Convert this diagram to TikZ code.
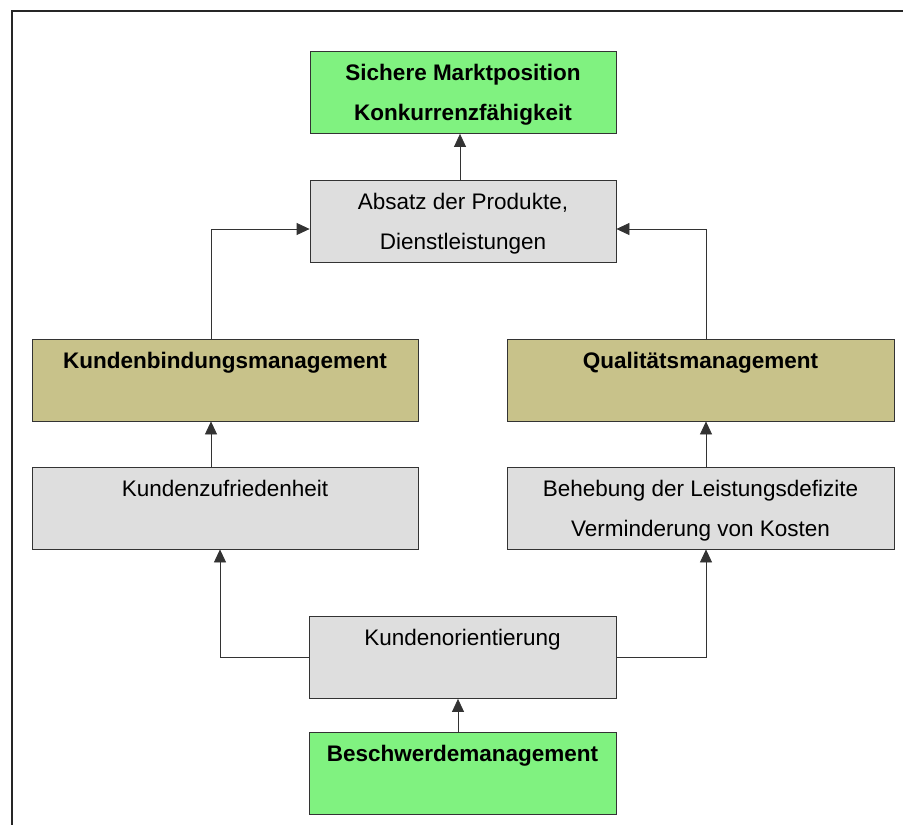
\documentclass[tikz,border=0pt]{standalone}
\usepackage{fontspec}
\setmainfont{Liberation Sans}
\usepackage{xcolor}
\usetikzlibrary{arrows.meta,positioning}

\definecolor{zielgruen}{RGB}{128,242,128}
\definecolor{olivgelb}{RGB}{200,194,138}
\definecolor{hellgrau}{RGB}{222,222,222}

\tikzset{
  kasten/.style={draw=black!80, line width=0.8pt, inner sep=0pt,
    minimum height=82pt, text height=69pt, text depth=13pt,
    align=center, font=\fontsize{22.5}{40}\selectfont},
  graubox/.style={kasten, fill=hellgrau},
  gruenbox/.style={kasten, fill=zielgruen, font=\fontsize{22.5}{40}\selectfont\bfseries},
  olivbox/.style={kasten, fill=olivgelb, font=\fontsize{22.5}{40}\selectfont\bfseries},
  pfeil/.style={draw=black!80, line width=0.8pt, -{Triangle[length=13pt,width=12pt]}}
}

\begin{document}
\begin{tikzpicture}[x=1pt, y=-1pt]
\useasboundingbox (0,0) rectangle (903,825);
% Rahmen
\draw[line width=1.6pt, black!85] (12,825) -- (12,11) -- (903,11);
% Kaesten
\node[gruenbox, minimum width=306pt] (ziel) at (463,92.5) {Sichere Marktposition\\Konkurrenzfähigkeit};
\node[graubox, minimum width=306pt] (absatz) at (463,221) {Absatz der Produkte,\\Dienstleistungen};
\node[olivbox, minimum width=386pt] (kbm) at (225,380) {Kundenbindungsmanagement\\\mbox{}};
\node[olivbox, minimum width=387pt] (qm) at (700.5,380) {Qualitätsmanagement\\\mbox{}};
\node[graubox, minimum width=386pt] (zufried) at (225,508) {Kundenzufriedenheit\\\mbox{}};
\node[graubox, minimum width=387pt] (behebung) at (700.5,508) {Behebung der Leistungsdefizite\\Verminderung von Kosten};
\node[graubox, minimum width=307pt] (orient) at (462.5,657.5) {Kundenorientierung\\\mbox{}};
\node[gruenbox, minimum width=307pt] (beschwerde) at (462.5,773.5) {Beschwerdemanagement\\\mbox{}};
% Verbindungen
\draw[pfeil] ([xshift=-3pt]absatz.north) -- ([xshift=-3pt]ziel.south);
\draw[pfeil] ([xshift=-14pt]kbm.north) |- ([yshift=-8pt]absatz.west);
\draw[pfeil] ([xshift=5.5pt]qm.north) |- ([yshift=-8pt]absatz.east);
\draw[pfeil] ([xshift=-14pt]zufried.north) -- ([xshift=-14pt]kbm.south);
\draw[pfeil] ([xshift=5.5pt]behebung.north) -- ([xshift=5.5pt]qm.south);
\draw[pfeil] (orient.west) -| ([xshift=-5pt]zufried.south);
\draw[pfeil] (orient.east) -| ([xshift=5.5pt]behebung.south);
\draw[pfeil] ([xshift=-4.5pt]beschwerde.north) -- ([xshift=-4.5pt]orient.south);
\end{tikzpicture}
\end{document}
